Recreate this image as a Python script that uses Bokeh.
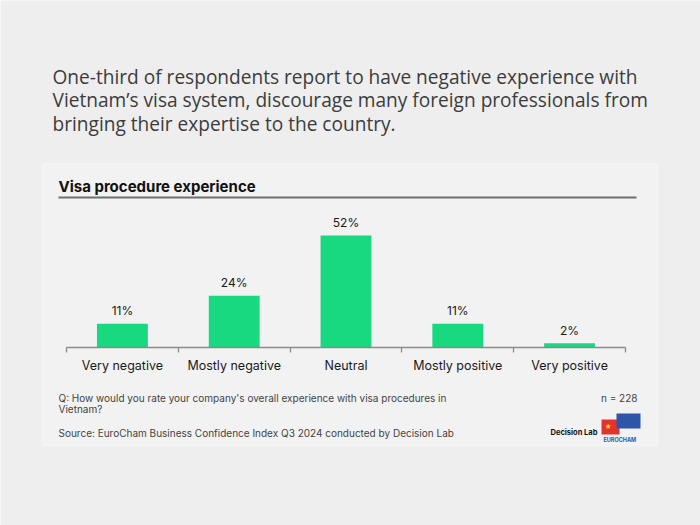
from bokeh.plotting import figure
from bokeh.models import (ColumnDataSource, Range1d, LinearAxis, FixedTicker, Label, LabelSet,
                          BoxAnnotation)
from bokeh.core.properties import value
from bokeh.embed import file_html
from bokeh.resources import INLINE

# ---- data ----
categories = ["Very negative", "Mostly negative", "Neutral", "Mostly positive", "Very positive"]
shares = [11, 24, 52, 11, 2]
share_labels = ["11%", "24%", "52%", "11%", "2%"]

headline = ["One-third of respondents report to have negative experience with",
            "Vietnam\u2019s visa system, discourage many foreign professionals from",
            "bringing their expertise to the country."]
chart_title = "Visa procedure experience"
question = ["Q: How would you rate your company's overall experience with visa procedures in",
            "Vietnam?"]
source_note = "Source: EuroCham Business Confidence Index Q3 2024 conducted by Decision Lab"
sample_note = "n = 228"

# ---- styling / layout ----
PAGE_BG = "#eeeeee"
CARD_BG = "#f2f2f2"
BAR = "#18d880"
AXIS_C = "#8a8a8a"
FONT = "Inter"
HEAD_FONT = "Open Sans"

W, H = 700, 525
PX_PER_CAT = 111.8      # width of one category slot
AXIS_LEFT = 66          # px from left where the axis starts
PX_PER_PCT = 2.154      # vertical px per percentage point
AXIS_TOP = 347          # px from top where the axis line sits

n = len(categories)
centers = [i + 0.5 for i in range(n)]
edges = list(range(n + 1))

p = figure(width=W, height=H,
           x_range=Range1d(-AXIS_LEFT / PX_PER_CAT, (W - AXIS_LEFT) / PX_PER_CAT),
           y_range=Range1d(-(H - AXIS_TOP) / PX_PER_PCT, AXIS_TOP / PX_PER_PCT),
           output_backend="svg", toolbar_location=None,
           x_axis_location=None, y_axis_location=None, min_border=0)
p.outline_line_color = None
p.grid.visible = False
p.background_fill_color = PAGE_BG
p.border_fill_color = PAGE_BG


def sy(y_from_top):
    return H - y_from_top


def box(left, right, top, bottom, **kw):
    p.add_layout(BoxAnnotation(left=left, right=right, top=sy(top), bottom=sy(bottom),
                               left_units="screen", right_units="screen",
                               top_units="screen", bottom_units="screen",
                               fill_alpha=1, **kw))


def label(x, y, text, size, color="#333333", font=FONT, style="normal", align="left"):
    p.add_layout(Label(x=x, y=sy(y), x_units="screen", y_units="screen", text=text,
                       text_font=font, text_font_size=size, text_color=color,
                       text_font_style=style, text_align=align, text_baseline="middle"))


# card + title underline
box(42, 657, 163, 445, fill_color=CARD_BG, line_color="#fbfbfb", line_width=2, level="underlay")
box(58, 636, 196, 198, fill_color="#6e6e6e", line_color=None)

src = ColumnDataSource(dict(x=centers, share=shares, lbl=share_labels))
p.vbar(x="x", top="share", bottom=0, width=0.455, source=src, fill_color=BAR, line_color=None)

p.add_layout(LabelSet(x="x", y="share", text="lbl", source=src, y_offset=13,
                      text_align="center", text_baseline="middle",
                      text_font=value(FONT), text_font_size=value("12px"),
                      text_color="#1a1a1a"))

# axes fixed at y = 0: boundary ticks + line, and category labels
tick_axis = LinearAxis(ticker=FixedTicker(ticks=edges, minor_ticks=[]), fixed_location=0,
                       bounds=(edges[0], edges[-1]),
                       major_label_overrides={e: "" for e in edges},
                       major_label_text_font_size="0px", major_label_standoff=0,
                       major_tick_in=0, major_tick_out=5,
                       minor_tick_line_color=None, axis_line_color=AXIS_C,
                       major_tick_line_color=AXIS_C, axis_line_width=1.3,
                       major_tick_line_width=1.3)
p.add_layout(tick_axis, "below")
cat_axis = LinearAxis(ticker=FixedTicker(ticks=centers, minor_ticks=[]), fixed_location=0,
                      bounds=(edges[0], edges[-1]),
                      major_label_overrides={c: lab for c, lab in zip(centers, categories)},
                      axis_line_color=None, major_tick_line_color=None,
                      minor_tick_line_color=None,
                      major_label_standoff=4, major_label_text_font=FONT,
                      major_label_text_font_size="12.5px", major_label_text_color="#1a1a1a")
p.add_layout(cat_axis, "below")

# texts
for i, line in enumerate(headline):
    label(52, 76 + i * 23.5, line, "19.1px", color="#3c3c3c", font=HEAD_FONT)

label(58, 186, chart_title, "15px", color="#111111", style="bold")
label(58, 397, question[0], "10px", color="#444444")
label(58, 408, question[1], "10px", color="#444444")
label(58, 432, source_note, "10px", color="#444444")
label(637, 397, sample_note, "10px", color="#444444", align="right")

# logos
label(550, 432, "Decision Lab", "7.5px", color="#111111", style="bold")
box(601, 619, 419, 434, fill_color="#e2342c", line_color=None)
box(616, 640, 413, 428, fill_color="#2f55a8", line_color=None)
label(604, 426, "\u2605", "8px", color="#f5d22a", font="DejaVu Sans")
label(603, 439, "EUROCHAM", "5.5px", color="#2f55a8", style="bold")

open("out.html", "w").write(file_html(p, INLINE))
